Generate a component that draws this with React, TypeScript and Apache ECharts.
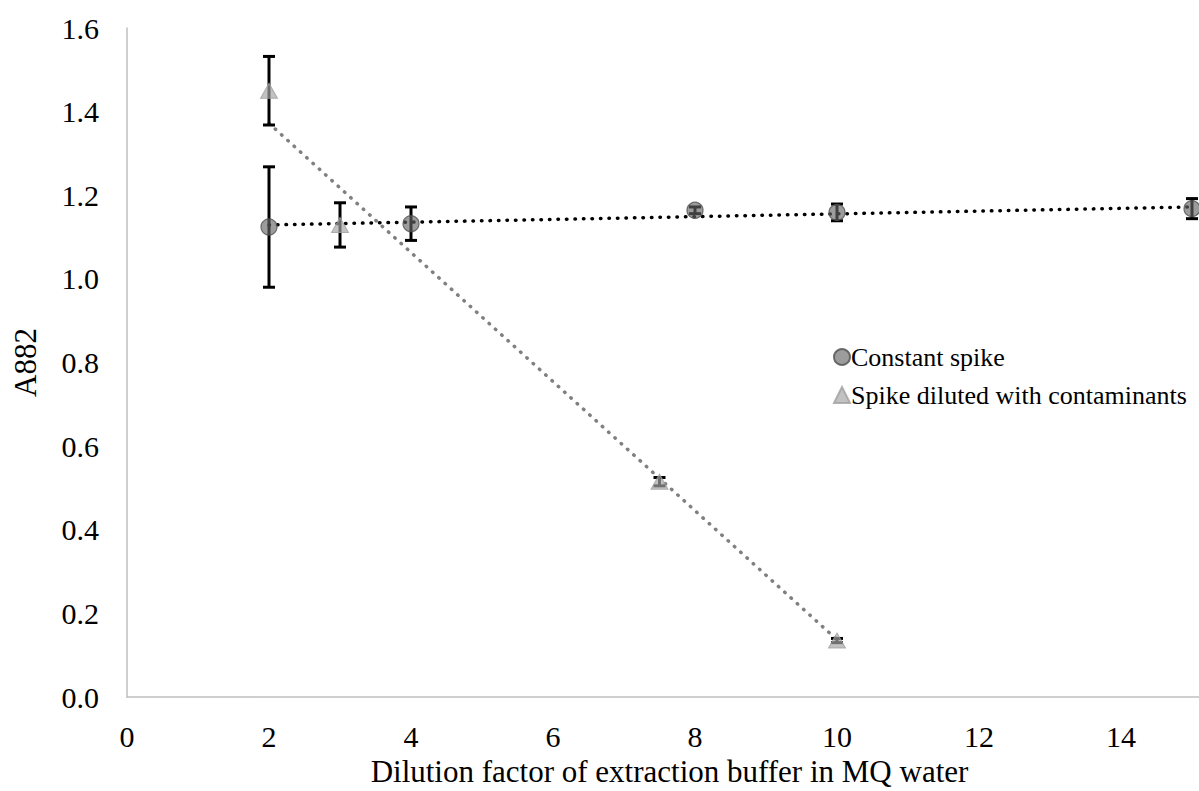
import React, { useEffect, useRef } from "react";
import * as echarts from "echarts";

const xConst = [2, 4, 8, 10, 15];
const yConst = [1.124, 1.132, 1.164, 1.159, 1.168];
const errConst = [0.144, 0.04, 0.008, 0.02, 0.024];

const xDil = [2, 3, 7.5, 10];
const yDil = [1.45, 1.129, 0.515, 0.135];
const errDil = [0.082, 0.053, 0.01, 0.005];

const trendConst = [
  [2, 1.129],
  [15, 1.172],
];
const trendDil = [
  [2, 1.372],
  [10, 0.137],
];

const FONT = "Liberation Serif, DejaVu Serif, serif";

export default function App() {
  const ref = useRef<HTMLDivElement>(null);
  useEffect(() => {
    if (!ref.current) return;
    const chart = echarts.init(ref.current, null, { renderer: "svg" });
    const errData = [
      ...xConst.map((x, i) => [x, yConst[i] - errConst[i], yConst[i] + errConst[i]]),
      ...xDil.map((x, i) => [x, yDil[i] - errDil[i], yDil[i] + errDil[i]]),
    ];
    chart.setOption({
      animation: false,
      backgroundColor: "#ffffff",
      textStyle: { fontFamily: FONT, color: "#000" },
      grid: { left: 127, top: 28, bottom: 94, right: 37, outerBoundsMode: "none", containLabel: false },
      legend: {
        data: ["Constant spike", "Spike diluted with contaminants"],
        orient: "vertical",
        left: 828,
        top: 339,
        itemWidth: 16,
        itemHeight: 16,
        itemGap: 12,
        textStyle: { fontFamily: FONT, fontSize: 26, color: "#000", lineHeight: 26, padding: [0, 0, 0, -4] },
      },
      xAxis: {
        type: "value",
        min: 0,
        max: 16,
        interval: 2,
        name: "Dilution factor of extraction buffer in MQ water",
        nameLocation: "middle",
        nameGap: 59,
        nameTextStyle: { fontFamily: FONT, fontSize: 31, color: "#000", padding: [0, 51, 0, 0] },
        axisLine: { show: true, onZero: false, lineStyle: { color: "#BFBFBF", width: 1.5 } },
        axisTick: { show: false },
        splitLine: { show: false },
        axisLabel: { fontFamily: FONT, fontSize: 30, color: "#000", margin: 24, showMaxLabel: false },
      },
      yAxis: {
        type: "value",
        min: 0,
        max: 1.6,
        interval: 0.2,
        name: "A882",
        nameLocation: "middle",
        nameRotate: 90,
        nameGap: 86,
        nameTextStyle: { fontFamily: FONT, fontSize: 31, color: "#000" },
        axisLine: { show: true, lineStyle: { color: "#BFBFBF", width: 1.5 } },
        axisTick: { show: false },
        splitLine: { show: false },
        axisLabel: {
          fontFamily: FONT,
          fontSize: 30,
          color: "#000",
          margin: 28,
          formatter: (v: number) => v.toFixed(1),
        },
      },
      series: [
        {
          name: "trendConst",
          type: "line",
          data: trendConst,
          showSymbol: false,
          symbol: "none",
          z: 2,
          lineStyle: { color: "#000000", width: 3.5, type: [0.5, 8], cap: "round" },
        },
        {
          name: "trendDil",
          type: "line",
          data: trendDil,
          showSymbol: false,
          symbol: "none",
          z: 2,
          lineStyle: { color: "#808080", width: 3.5, type: [0.5, 8], cap: "round" },
        },
        {
          name: "errors",
          type: "custom",
          z: 3,
          encode: { x: 0, y: [1, 2] },
          data: errData,
          renderItem: (params: any, api: any) => {
            const x = api.value(0);
            const lo = api.value(1);
            const hi = api.value(2);
            const p1 = api.coord([x, hi]);
            const p2 = api.coord([x, lo]);
            const w = 6;
            const st = { stroke: "#000", lineWidth: 3 };
            return {
              type: "group",
              children: [
                { type: "line", shape: { x1: p1[0], y1: p1[1], x2: p2[0], y2: p2[1] }, style: st },
                { type: "line", shape: { x1: p1[0] - w, y1: p1[1], x2: p1[0] + w, y2: p1[1] }, style: st },
                { type: "line", shape: { x1: p2[0] - w, y1: p2[1], x2: p2[0] + w, y2: p2[1] }, style: st },
              ],
            };
          },
        },
        {
          name: "Constant spike",
          type: "scatter",
          z: 4,
          symbol: "circle",
          symbolSize: 16,
          data: xConst.map((x, i) => [x, yConst[i]]),
          itemStyle: { color: "rgba(100,100,100,0.8)", borderColor: "#505050", borderWidth: 1.2 },
        },
        {
          name: "Spike diluted with contaminants",
          type: "scatter",
          z: 4,
          symbol: "triangle",
          symbolSize: [17, 15],
          data: xDil.map((x, i) => [x, yDil[i]]),
          itemStyle: { color: "rgba(165,165,165,0.85)", borderColor: "#A0A0A0", borderWidth: 1 },
        },
      ],
    });
    return () => chart.dispose();
  }, []);
  return (
    <div
      style={{
        position: "fixed",
        left: 0,
        top: 0,
        width: 1199,
        height: 791,
        overflow: "hidden",
        background: "#fff",
      }}
    >
      <div ref={ref} style={{ width: 1300, height: 791 }} />
    </div>
  );
}
